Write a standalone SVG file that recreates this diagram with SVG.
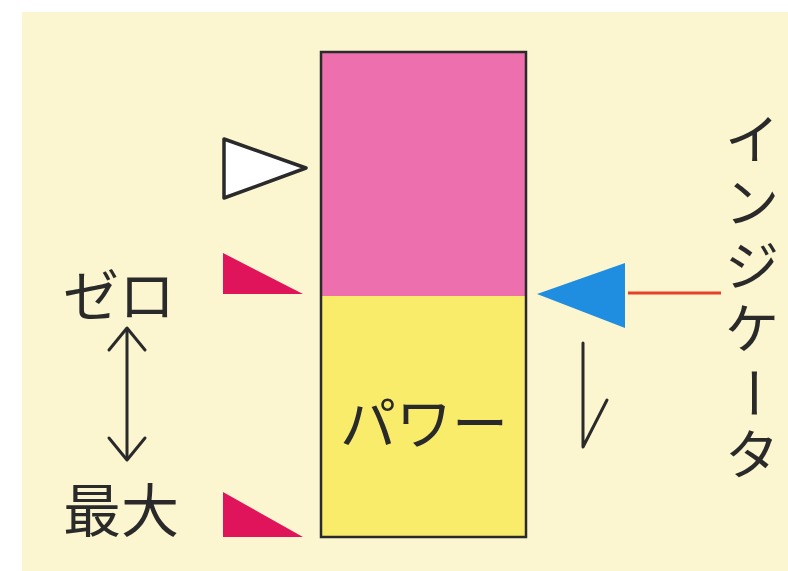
<svg xmlns="http://www.w3.org/2000/svg" width="788" height="571" viewBox="0 0 788 571">
<style>
.t{font-family:"Noto Sans CJK JP","Noto Sans",sans-serif;fill:#2a2a2a}
.v{font-size:54px;text-anchor:middle}
.ln{stroke:#2a2a2a;stroke-width:3;fill:none;stroke-linecap:round;stroke-linejoin:round}
.mk{fill:#e0145a}
</style>
<rect x="0" y="0" width="788" height="571" fill="#ffffff"/>
<rect x="22" y="12" width="766" height="559" fill="#fbf6cf"/>
<g id="gauge">
<rect x="321" y="52" width="205" height="244" fill="#ee6fae"/>
<rect x="321" y="296" width="205" height="241" fill="#f8ec6a"/>
<rect x="321" y="52" width="205" height="485" fill="none" stroke="#2a2a2a" stroke-width="2.5"/>
<text class="t" x="424" y="444" font-size="56" text-anchor="middle">パワー</text>
</g>
<g id="white-marker">
<polygon points="224,139 306,168 224,198" fill="#ffffff" stroke="#2a2a2a" stroke-width="3.5" stroke-linejoin="round"/>
</g>
<g id="zero-marker"><polygon class="mk" points="223,253 303,294 223,294"/></g>
<g id="max-marker"><polygon class="mk" points="223,492 303,537 223,537"/></g>
<g id="indicator">
<polygon points="537,294 625,263 625,328" fill="#1f8ee0"/>
<line x1="628" y1="293" x2="721" y2="293" stroke="#e8402a" stroke-width="3"/>
</g>
<g id="label-zero"><text class="t" x="63" y="316" font-size="56">ゼロ</text></g>
<g id="label-max"><text class="t" x="63" y="532" font-size="58">最大</text></g>
<g id="label-indicator">
<text class="t v" x="752" y="160">イ</text>
<text class="t v" x="752" y="223">ン</text>
<text class="t v" x="752" y="286">ジ</text>
<text class="t v" x="752" y="349">ケ</text>
<text class="t v" x="752" y="412" transform="rotate(90 752 393)">ー</text>
<text class="t v" x="752" y="475">タ</text>
</g>
<g id="connectors">
<line class="ln" x1="127" y1="330" x2="127" y2="458"/>
<polyline class="ln" points="109,350 127,328 145,350"/>
<polyline class="ln" points="109,438 127,460 145,438"/>
<polyline class="ln" points="583,343 583,447 607,400"/>
</g>
</svg>
